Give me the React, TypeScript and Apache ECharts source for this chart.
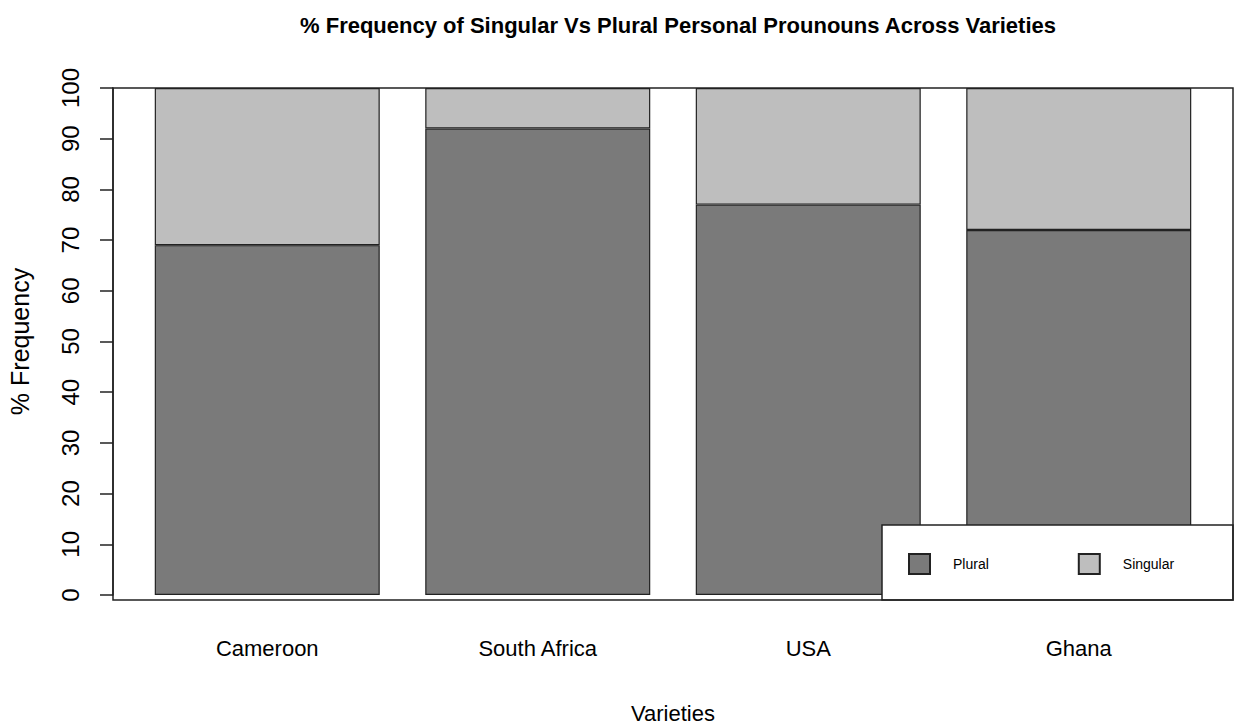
import React, { useEffect, useRef } from "react";
import * as echarts from "echarts";

const categories = ["Cameroon", "South Africa", "USA", "Ghana"];
const pluralValues = [69, 92, 77, 72];
const singularValues = [31, 8, 23, 28];
const yTicks = [0, 100, 10]; // min, max, interval

const SANS = "'Liberation Sans', Arial, sans-serif";

export default function App() {
  const ref = useRef<HTMLDivElement>(null);
  useEffect(() => {
    if (!ref.current) return;
    const chart = echarts.init(ref.current, null, { renderer: "svg" });
    chart.setOption({
      animation: false,
      backgroundColor: "#ffffff",
      title: {
        text: "% Frequency of Singular Vs Plural Personal Prounouns Across Varieties",
        left: 673,
        top: 9,
        textAlign: "center",
        textStyle: { fontFamily: SANS, fontSize: 22, fontWeight: "bold", color: "#000" },
      },
      grid: { left: 132, right: 23, top: 88, bottom: 130, containLabel: false, outerBoundsMode: "none" },
      legend: {
        left: 903,
        top: 548,
        itemWidth: 21,
        itemHeight: 20,
        itemGap: 89,
        icon: "rect",
        data: ["Plural", "Singular"],
        textStyle: { fontFamily: SANS, fontSize: 14, color: "#000", padding: [0, 0, 0, 18] },
        z: 10,
      },
      xAxis: {
        type: "category",
        data: categories,
        axisLine: { show: false },
        axisTick: { show: false },
        axisLabel: { fontFamily: SANS, fontSize: 22, color: "#000", margin: 42 },
        name: "Varieties",
        nameLocation: "middle",
        nameGap: 107,
        nameTextStyle: { fontFamily: SANS, fontSize: 22, color: "#000" },
      },
      yAxis: {
        type: "value",
        min: yTicks[0],
        max: yTicks[1],
        interval: yTicks[2],
        offset: 19,
        splitLine: { show: false },
        axisLine: { show: true, lineStyle: { color: "#222", width: 1.5 } },
        axisTick: { show: true, length: 13, lineStyle: { color: "#222", width: 1.5 } },
        axisLabel: { rotate: 90, fontFamily: SANS, fontSize: 24, color: "#000", margin: 31 },
        name: "% Frequency",
        nameLocation: "middle",
        nameGap: 81,
        nameTextStyle: { fontFamily: SANS, fontSize: 25, color: "#000" },
      },
      graphic: [
        {
          type: "rect",
          z: 100,
          shape: { x: 113, y: 88, width: 1120, height: 512 },
          style: { fill: "none", stroke: "#222", lineWidth: 1.5 },
        },
        {
          type: "rect",
          z: 5,
          shape: { x: 882, y: 525, width: 351, height: 75 },
          style: { fill: "#fff", stroke: "#222", lineWidth: 1.5 },
        },
      ],
      series: [
        {
          name: "Plural",
          type: "bar",
          stack: "total",
          barWidth: 225,
          data: pluralValues,
          itemStyle: { color: "#7a7a7a", borderColor: "#222", borderWidth: 1.2 },
        },
        {
          name: "Singular",
          type: "bar",
          stack: "total",
          barWidth: 225,
          data: singularValues,
          itemStyle: { color: "#bebebe", borderColor: "#222", borderWidth: 1.2 },
        },
      ],
    });
    return () => chart.dispose();
  }, []);
  return (
    <div
      ref={ref}
      style={{ position: "fixed", left: 0, top: 0, width: 1237, height: 725 }}
    />
  );
}
